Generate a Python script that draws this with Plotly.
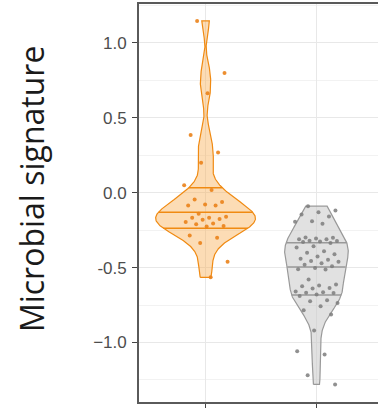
import numpy as np
import plotly.graph_objects as go

# ---------------- data ----------------
group_positions = [1, 2]
group_names = ["Group A", "Group B"]

orange_values = [1.147, 0.80, 0.665, 0.385, 0.268, 0.20, 0.05, 0.018,
                 -0.045, -0.062, -0.078, -0.085, -0.085,
                 -0.14, -0.16, -0.167, -0.167, -0.175, -0.18, -0.195,
                 -0.205, -0.21, -0.222, -0.225,
                 -0.285, -0.30, -0.335, -0.46, -0.565]

gray_values = [-0.09, -0.118, -0.131, -0.145, -0.158, -0.191, -0.193, -0.207,
               -0.298, -0.30, -0.305, -0.31, -0.31, -0.32, -0.322, -0.325, -0.329, -0.336,
               -0.358, -0.365, -0.39, -0.40, -0.41, -0.425,
               -0.44, -0.447, -0.455, -0.46, -0.47, -0.48, -0.49,
               -0.502, -0.51, -0.513,
               -0.58, -0.613, -0.62, -0.624, -0.636, -0.64,
               -0.66, -0.665, -0.667, -0.67, -0.68, -0.69,
               -0.718, -0.725, -0.736, -0.758, -0.785, -0.813, -0.92,
               -1.058, -1.08, -1.218, -1.28]

y_tickvals = [-1.0, -0.5, 0.0, 0.5, 1.0]
y_ticktext = ["\u22121.0", "-0.5", "0.0", "0.5", "1.0"]
y_title = "Microbial signature"
quantile_levels = [0.25, 0.5, 0.75]

# ---------------- styles ----------------
styles = [
    dict(fill="rgba(248,178,90,0.45)", line="#F08A12", point="rgba(234,130,25,0.9)"),
    dict(fill="rgba(200,200,200,0.55)", line="#999999", point="rgba(125,125,125,0.85)"),
]
VIOLIN_WIDTH = 0.9
JITTER = 0.2


def nrd0(x):
    sd = np.std(x, ddof=1)
    q75, q25 = np.percentile(x, [75, 25])
    lo = min(sd, (q75 - q25) / 1.34)
    return 0.9 * lo * len(x) ** -0.2


def kde(x, n=512):
    x = np.asarray(x, dtype=float)
    bw = nrd0(x)
    grid = np.linspace(x.min(), x.max(), n)
    d = np.exp(-0.5 * ((grid[:, None] - x[None, :]) / bw) ** 2).sum(1)
    d /= len(x) * bw * np.sqrt(2 * np.pi)
    return grid, d


series = [orange_values, gray_values]
dens = [kde(v) for v in series]
dmax = max(d.max() for _, d in dens)

fig = go.Figure()

for pos, vals, (grid, d), st in zip(group_positions, series, dens, styles):
    half = d / dmax * VIOLIN_WIDTH / 2
    xs = np.concatenate([pos - half, (pos + half)[::-1], [pos - half[0]]])
    ys = np.concatenate([grid, grid[::-1], [grid[0]]])
    fig.add_trace(go.Scatter(x=xs, y=ys, mode="lines", fill="toself",
                             fillcolor=st["fill"], line=dict(color=st["line"], width=1.2),
                             hoverinfo="skip", showlegend=False))
    # density quantiles (ggplot draw_quantiles style)
    cdf = np.cumsum(d) / d.sum()
    qx, qy = [], []
    for q in quantile_levels:
        yq = np.interp(q, cdf, grid)
        hq = np.interp(yq, grid, half)
        qx += [pos - hq, pos + hq, None]
        qy += [yq, yq, None]
    fig.add_trace(go.Scatter(x=qx, y=qy, mode="lines",
                             line=dict(color=st["line"], width=1.5),
                             hoverinfo="skip", showlegend=False))

for pos, vals, st in zip(group_positions, series, styles):
    n = len(vals)
    offs = [((i * 0.6180339887 + 0.31) % 1.0 - 0.5) * 2 * JITTER for i in range(n)]
    fig.add_trace(go.Scatter(x=[pos + o for o in offs], y=vals, mode="markers",
                             marker=dict(size=4, color=st["point"], line=dict(width=0)),
                             showlegend=False))

fig.add_annotation(text=y_title, textangle=-90, xref="paper", yref="paper",
                   x=-0.45, y=0.536, xanchor="center", yanchor="middle",
                   showarrow=False,
                   font=dict(family="Open Sans", size=32, color="#1a1a1a"))

fig.update_layout(
    width=378, height=410,
    margin=dict(l=139, r=0, t=4, b=8),
    paper_bgcolor="white", plot_bgcolor="white",
    showlegend=False,
)
fig.update_xaxes(range=[0.4, 2.555], tickvals=group_positions, ticktext=group_names,
                 showticklabels=False, ticks="outside", ticklen=4, tickwidth=1.3,
                 tickcolor="#444", showgrid=True, gridcolor="#E8E8E8", gridwidth=1.3,
                 zeroline=False, showline=True, mirror=True, linecolor="#5a5a5a", linewidth=1.6)
fig.update_yaxes(range=[-1.397, 1.26], tickvals=y_tickvals, ticktext=y_ticktext,
                 ticks="outside", ticklen=5, tickwidth=1.3, tickcolor="#444",
                 tickfont=dict(family="Liberation Sans", size=17, color="#4d4d4d"),
                 ticklabelstandoff=2,
                 showgrid=True, gridcolor="#E8E8E8", gridwidth=1.3,
                 minor=dict(dtick=0.25, tick0=0, showgrid=True, gridcolor="#F2F2F2", gridwidth=1),
                 zeroline=False, showline=True, linecolor="#5a5a5a", linewidth=1.8)

fig.write_html("out.html")
